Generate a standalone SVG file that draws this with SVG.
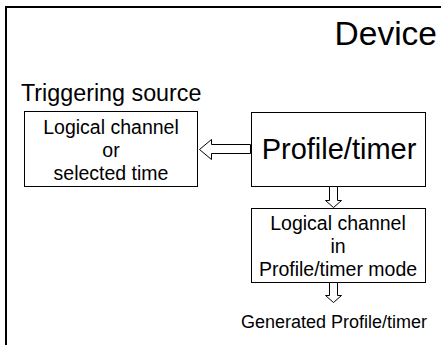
<svg xmlns="http://www.w3.org/2000/svg" width="441" height="345" viewBox="0 0 441 345">
<style>
text{font-family:"Liberation Sans",Arial,sans-serif;fill:#000}
.box{fill:#fff;stroke:#000;stroke-width:1}
.arrow{fill:#fff;stroke:#000;stroke-width:1}
.t{font-size:19.5px;text-anchor:middle}
</style>
<rect x="0" y="0" width="441" height="345" fill="#fff"/>
<g id="device">
<rect x="6" y="7" width="445" height="350" fill="none" stroke="#000" stroke-width="2"/>
<text x="437" y="45" font-size="33.5" text-anchor="end">Device</text>
</g>
<g id="triggering-label">
<text x="21" y="101" font-size="23.3">Triggering source</text>
</g>
<g id="source">
<rect class="box" x="24.5" y="111.5" width="173" height="75"/>
<text class="t" x="111" y="134">Logical channel</text>
<text class="t" x="111" y="157">or</text>
<text class="t" x="111" y="180">selected time</text>
</g>
<g id="profile">
<rect class="box" x="251.5" y="112.5" width="174" height="74"/>
<text x="339" y="159" font-size="29" text-anchor="middle">Profile/timer</text>
</g>
<g id="logical">
<rect class="box" x="251.5" y="208.5" width="174" height="74"/>
<text class="t" x="338" y="230">Logical channel</text>
<text class="t" x="338" y="253">in</text>
<text class="t" x="338" y="276">Profile/timer mode</text>
</g>
<g id="output">
<text x="334" y="328" font-size="18" text-anchor="middle">Generated Profile/timer</text>
</g>
<g id="connectors">
<polygon class="arrow" points="250.5,144.5 211.5,144.5 211.5,139.5 199.5,149.5 211.5,159.5 211.5,153.5 250.5,153.5"/>
<polygon class="arrow" points="329.5,186.5 337.5,186.5 337.5,200.5 341.5,200.5 333.5,207.5 325.5,200.5 329.5,200.5"/>
<polygon class="arrow" points="329.5,282.5 337.5,282.5 337.5,295.5 341.5,295.5 333.5,302.5 325.5,295.5 329.5,295.5"/>
</g>
</svg>
